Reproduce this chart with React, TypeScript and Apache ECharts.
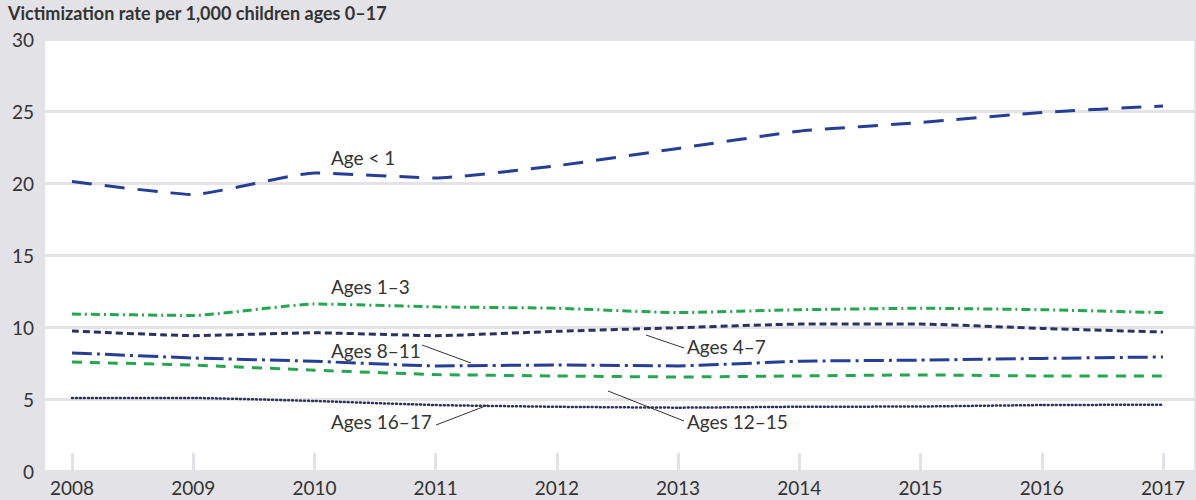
import React, { useEffect, useRef } from "react";
import * as echarts from "echarts";

const years = ["2008", "2009", "2010", "2011", "2012", "2013", "2014", "2015", "2016", "2017"];
const ageUnder1 = [20.1, 19.2, 20.7, 20.35, 21.2, 22.4, 23.6, 24.2, 24.9, 25.35];
const ages1to3 = [10.9, 10.8, 11.6, 11.4, 11.3, 11.0, 11.2, 11.3, 11.2, 11.0];
const ages4to7 = [9.72, 9.4, 9.6, 9.4, 9.7, 9.95, 10.2, 10.2, 9.9, 9.65];
const ages8to11 = [8.2, 7.85, 7.62, 7.3, 7.36, 7.3, 7.62, 7.7, 7.82, 7.92];
const ages12to15 = [7.57, 7.35, 7.0, 6.7, 6.6, 6.53, 6.6, 6.67, 6.6, 6.6];
const ages16to17 = [5.07, 5.07, 4.86, 4.58, 4.46, 4.4, 4.46, 4.48, 4.58, 4.6];
const yTicks = { min: 0, max: 30, interval: 5 };

const BLUE = "#253f94";
const NAVY = "#2b3260";
const GREEN = "#27a550";
const TEXT = "#333333";
const BG = "#e3e2e7";
const FONT = "Lato, 'Noto Sans', sans-serif";

export default function App() {
  const ref = useRef<HTMLDivElement>(null);
  useEffect(() => {
    if (!ref.current) return;
    const chart = echarts.init(ref.current, null, { renderer: "svg" });
    const line = (name: string, data: number[], color: string, dash: number[], width = 3, cap: any = "butt") => ({
      name,
      type: "line",
      xAxisIndex: 1,
      yAxisIndex: 1,
      data,
      smooth: 0.15,
      symbol: "none",
      lineStyle: { color, width, type: dash, cap },
      z: 5,
    });
    const label = (text: string, x: number, y: number) => ({
      type: "text",
      x,
      y,
      style: { text, fill: TEXT, font: `19px ${FONT}`, textVerticalAlign: "middle" },
      z: 10,
    });
    const leader = (x1: number, y1: number, x2: number, y2: number) => ({
      type: "line",
      shape: { x1, y1, x2, y2 },
      style: { stroke: TEXT, lineWidth: 1 },
      z: 10,
    });
    chart.setOption({
      animation: false,
      backgroundColor: BG,
      textStyle: { fontFamily: FONT },
      grid: [
        { left: 45, right: 2, top: 39, bottom: 29, show: true, backgroundColor: "#ffffff", borderWidth: 0 },
        { left: 72, right: 33, top: 39, bottom: 29 },
      ],
      xAxis: [
        { type: "value", gridIndex: 0, min: 0, max: 1, show: false },
        {
          type: "category",
          gridIndex: 1,
          data: years,
          boundaryGap: false,
          axisLine: { show: false },
          axisTick: { show: true, inside: true, length: 18, lineStyle: { color: BG, width: 3 } },
          axisLabel: { color: TEXT, fontSize: 19, margin: 7, fontFamily: FONT },
          splitLine: { show: false },
        },
      ],
      yAxis: [
        {
          type: "value",
          gridIndex: 0,
          ...yTicks,
          axisLine: { show: false },
          axisTick: { show: false },
          axisLabel: { color: TEXT, fontSize: 19, margin: 11, fontFamily: FONT },
          splitLine: { show: true, lineStyle: { color: BG, width: 3 } },
        },
        { type: "value", gridIndex: 1, ...yTicks, show: false, splitLine: { show: false } },
      ],
      series: [
        line("Age < 1", ageUnder1, BLUE, [20, 13]),
        line("Ages 1–3", ages1to3, GREEN, [9, 4, 2, 4]),
        line("Ages 4–7", ages4to7, NAVY, [7, 4]),
        line("Ages 8–11", ages8to11, BLUE, [20, 5, 3, 5]),
        line("Ages 12–15", ages12to15, GREEN, [10, 8]),
        line("Ages 16–17", ages16to17, NAVY, [1, 3], 2.5, "round"),
      ],
      graphic: [
        {
          type: "text",
          x: 8,
          y: 13,
          style: { text: "Victimization rate per 1,000 children ages 0–17", fill: TEXT, font: `bold 18px ${FONT}`, textVerticalAlign: "middle" },
        },
        label("Age < 1", 331, 157),
        label("Ages 1–3", 331, 286),
        label("Ages 4–7", 687, 346),
        label("Ages 8–11", 331, 350),
        label("Ages 12–15", 687, 421),
        label("Ages 16–17", 331, 421),
        leader(646, 335, 684, 348),
        leader(422, 345, 471, 363),
        leader(608, 391, 684, 421),
        leader(436, 425, 488, 405),
      ],
    });
    return () => chart.dispose();
  }, []);
  return <div ref={ref} style={{ position: "fixed", left: 0, top: 0, width: 1196, height: 500 }} />;
}
